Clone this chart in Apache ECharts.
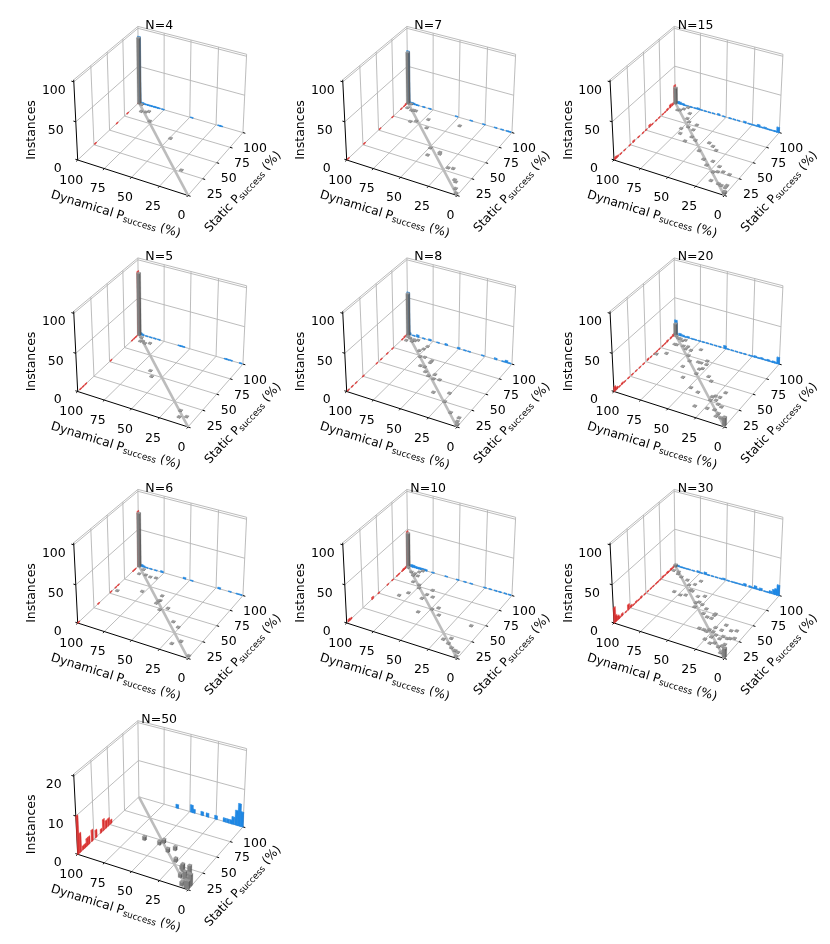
<!DOCTYPE html>
<html>
<head>
<meta charset="utf-8">
<title>Instances by dynamical and static Psuccess</title>
<script src="https://cdn.jsdelivr.net/npm/echarts@6/dist/echarts.min.js"></script>
<style>
  html, body { margin: 0; padding: 0; background: #fff; }
  #main { width: 830px; height: 944px; }
</style>
</head>
<body>
<div id="main"></div>
<script>
// axis ticks
var dynTicks = [0, 25, 50, 75, 100]
var staticTicks = [0, 25, 50, 75, 100]
var instTicks = [0, 50, 100]
var instTicksN50 = [0, 10, 20]
var diagonal = [[100, 100], [0, 0]]

// gray bars: [dynamical, static, instances (1 if left out)]
var gray_N4 = [[99,99,89],[96,98],[91,88],[87,89],[85,91],[77,78],[49,63],[20,27]]
var gray_N5 = [[99,99,84],[95,96],[93,90],[91,91],[88,89],[84,91],[63,54],[58,47],[15,16],[12,8],[7,11]]
var gray_N6 = [[99,99,73],[93,96],[93,88],[87,89],[82,88],[77,89],[96,56],[77,65],[59,67],[57,60],[58,59],[58,55],[51,48],[46,53],[33,38],[26,33],[15,17],[20,11],[1,3]]
var gray_N50 = [[63,44],[49,44],[47,48],[38,38],[34,43],[26,29],[17,22],[15,20,2],[13,12],[9,12,2],[7,16,3],[7,3],[5,11,2],[3,7,2],[3,2,2],[1,6,3],[1,2,2]]
var gray_N7 = [[99,99,70],[96,99],[96,92],[91,90],[89,91],[87,91],[83,74],[79,77],[71,84],[66,72],[43,88],[49,47],[39,45],[38,43],[46,37],[23,29],[19,30],[11,17],[9,15],[5,7],[2,2]]
var gray_N8 = [[99,99,57],[98,96],[95,95],[91,94],[96,90],[89,93],[87,95],[91,91],[75,90],[76,85],[78,81],[73,73],[69,74],[61,72],[61,69],[66,61],[62,61],[58,55],[53,51],[49,55],[42,50],[47,49],[38,32],[26,37],[24,25],[13,14],[4,11],[3,6],[1,2,2]]
var gray_N10 = [[99,99,46],[98,97],[92,92],[88,91],[88,88],[86,95],[84,98],[84,89],[83,79],[76,77],[74,73],[83,55],[78,62],[63,67],[62,75],[64,60],[57,66],[57,41],[49,50],[45,54],[40,45],[10,44],[21,17],[16,21],[15,14],[10,10],[6,8],[3,7],[2,2]]
var gray_N15 = [[99,99,22],[92,90],[90,91],[88,94],[86,98],[80,90],[78,82],[74,78],[75,66],[71,71],[66,77],[65,69],[72,59],[61,59],[63,51],[56,56],[44,58],[39,55],[34,51],[46,44],[37,35],[31,29],[29,36],[21,32],[19,25],[22,23],[15,27],[9,26],[18,12],[11,11],[8,10],[4,9],[4,12],[2,4],[1,2,3]]
var gray_N20 = [[99,99,16],[97,97],[94,95],[92,95],[92,85],[90,85],[89,93],[87,95],[84,86],[80,83],[80,87],[75,83],[68,88],[91,69],[98,64],[73,75],[68,68],[69,58],[61,70],[58,70],[55,75],[55,61],[53,63],[53,70],[61,44],[54,54],[43,55],[38,50],[48,34],[40,31],[33,13],[27,31],[25,33],[21,33],[20,41],[26,26],[22,28],[18,24],[14,22],[23,15],[17,16],[12,9],[12,13],[8,9],[5,8],[1,2,11]]
var gray_N30 = [[99,99,3],[97,92],[92,92],[91,89],[86,86],[79,84],[68,88],[70,81],[74,78],[69,72],[80,63],[73,61],[69,63],[67,71],[59,66],[54,69],[56,57],[54,59],[50,57],[54,51],[44,53],[43,46],[38,43],[34,43],[34,48],[34,50],[19,40],[25,33],[19,32],[36,26],[32,26],[29,25],[28,28],[24,27],[20,24],[22,20],[25,15],[15,21],[14,25],[10,24],[12,35],[8,37],[8,25],[5,27],[19,12],[16,14],[11,11],[9,13],[8,16],[6,5],[5,9],[1,2,12]]

// red bars along the dynamical = 100 wall: [static, instances]
var red_N4 = [[99,1],[80,1],[62,1],[27,1]]
var red_N5 = [[99,86],[95,1],[92,1],[88,1],[52,1],[12,1],[8,1],[4,1]]
var red_N6 = [[99,75],[93,1],[90,1],[64,1],[60,1],[52,1],[32,1],[1,1]]
var red_N50 = [[1,10],[4,5],[8,1],[11,1],[14,2],[17,2],[22,3],[28,2],[36,1],[40,3],[44,2],[48,2],[52,1]]
var red_N7 = [[96,2],[93,1],[88,1],[73,1],[52,1],[27,1],[2,1]]
var red_N8 = [[98,2],[94,2],[90,1],[73,1],[64,1],[54,1],[47,1],[25,1],[14,1],[8,1],[2,1]]
var red_N10 = [[99,48],[96,2],[94,1],[92,2],[90,1],[84,1],[81,1],[73,1],[65,1],[50,1],[40,3],[6,2],[3,3]]
var red_N15 = [[99,25],[95,3],[91,4],[86,2],[82,1],[78,1],[72,1],[67,1],[60,1],[56,3],[50,1],[45,1],[38,1],[30,2],[24,1],[16,1],[10,1],[5,2],[2,3]]
var red_N20 = [[96,3],[92,2],[86,2],[82,1],[78,1],[72,1],[68,1],[64,1],[58,1],[53,2],[46,1],[40,1],[34,1],[28,1],[22,1],[16,1],[12,2],[8,1],[4,3],[1,6]]
var red_N30 = [[97,2],[94,1],[92,2],[88,1],[86,2],[82,1],[78,2],[74,1],[70,1],[67,1],[62,1],[58,1],[53,1],[48,1],[42,2],[38,1],[34,2],[30,1],[26,3],[22,7],[18,1],[12,3],[8,2],[6,5],[3,8],[1,20]]

// blue bars along the static = 100 wall: [dynamical, instances]
var blue_N4 = [[99,90],[96,2],[94,1],[92,1],[90,1],[88,1],[86,1],[84,1],[82,1],[80,1],[76,1],[48,1],[22,1],[20,1]]
var blue_N5 = [[98,3],[96,2],[92,1],[88,1],[84,1],[80,1],[60,1],[58,1],[56,1],[16,1],[14,1],[11,1],[2,1]]
var blue_N6 = [[97,3],[95,2],[92,1],[88,1],[83,1],[77,2],[55,2],[48,1],[22,2],[12,1],[5,1],[2,1]]
var blue_N50 = [[62,1],[48,2],[46,1],[38,1],[33,1],[25,1],[17,1],[14,1],[11,1],[9,2],[6,4],[3.5,6],[1,4]]
var blue_N7 = [[99,71],[98,2],[96,2],[94,2],[92,1],[90,1],[84,1],[78,1],[52,1],[38,1],[26,1],[15,1],[9,1],[4,1],[2,1]]
var blue_N8 = [[99,58],[98,3],[94,1],[90,3],[84,1],[78,2],[70,1],[62,2],[50,2],[44,1],[40,1],[27,1],[15,2],[8,1],[5,3],[2,1]]
var blue_N10 = [[96,3],[94,3],[92,2],[90,2],[88,2],[86,2],[84,2],[82,2],[75,1],[62,1],[51,1],[44,1],[38,1],[25,1],[20,1],[15,1],[11,1],[6,1],[2,1]]
var blue_N15 = [[97,3],[95,3],[92,2],[90,1],[87,1],[84,1],[80,1],[77,2],[74,1],[70,1],[66,1],[62,1],[57,2],[52,1],[46,1],[42,1],[38,1],[32,2],[28,1],[25,1],[22,1],[19,3],[16,1],[13,2],[10,1],[8,1],[5,1],[3,1],[1,7]]
var blue_N20 = [[99,20],[95,3],[92,2],[90,1],[87,2],[83,1],[80,1],[76,1],[72,1],[68,1],[64,1],[60,1],[56,1],[51,4],[48,1],[44,1],[40,1],[36,1],[32,1],[27,1],[24,1],[22,2],[19,1],[16,2],[13,1],[10,2],[7,1],[5,2],[3,1],[1,9]]
var blue_N30 = [[97,2],[94,1],[92,1],[89,1],[86,1],[82,1],[77,2],[74,1],[70,3],[67,1],[63,1],[59,1],[55,1],[52,2],[48,1],[44,1],[41,1],[38,1],[35,1],[32,3],[27,2],[24,1],[22,4],[19,1],[17,3],[13,1],[10,1],[8,3],[5,6],[3,8],[1,14]]

var panels = [
    {n: 4,  col: 0, row: 0, gray: gray_N4,  red: red_N4,  blue: blue_N4,  zTicks: instTicks},
    {n: 5,  col: 0, row: 1, gray: gray_N5,  red: red_N5,  blue: blue_N5,  zTicks: instTicks},
    {n: 6,  col: 0, row: 2, gray: gray_N6,  red: red_N6,  blue: blue_N6,  zTicks: instTicks},
    {n: 50, col: 0, row: 3, gray: gray_N50, red: red_N50, blue: blue_N50, zTicks: instTicksN50},
    {n: 7,  col: 1, row: 0, gray: gray_N7,  red: red_N7,  blue: blue_N7,  zTicks: instTicks},
    {n: 8,  col: 1, row: 1, gray: gray_N8,  red: red_N8,  blue: blue_N8,  zTicks: instTicks},
    {n: 10, col: 1, row: 2, gray: gray_N10, red: red_N10, blue: blue_N10, zTicks: instTicks},
    {n: 15, col: 2, row: 0, gray: gray_N15, red: red_N15, blue: blue_N15, zTicks: instTicks},
    {n: 20, col: 2, row: 1, gray: gray_N20, red: red_N20, blue: blue_N20, zTicks: instTicks},
    {n: 30, col: 2, row: 2, gray: gray_N30, red: red_N30, blue: blue_N30, zTicks: instTicks}
]

var FONT = '"DejaVu Sans", sans-serif'
var colX = [77.7, 346.7, 614]
var rowY = [160, 391.5, 623, 854.3]
var SCALE = 1090

// 3D camera fitted to the reference: box 4:4:3, distance 10
var ELEV = 32 * Math.PI / 180, AZIM = -61.5 * Math.PI / 180
var BOX = [1.1429, 1.1429, 0.8571]
var EYE_N = [Math.cos(ELEV) * Math.cos(AZIM), Math.cos(ELEV) * Math.sin(AZIM), Math.sin(ELEV)]
var EYE_U = [-Math.sin(AZIM), Math.cos(AZIM), 0]
var EYE_V = [-Math.sin(ELEV) * Math.cos(AZIM), -Math.sin(ELEV) * Math.sin(AZIM), Math.cos(ELEV)]
var DIST = 10

function dot(a, b) { return a[0] * b[0] + a[1] * b[1] + a[2] * b[2] }

// dyn runs 100 -> 0 along the front edge, static 0 -> 100 along the right edge
function cam(d, s, zFrac) {
    var X = echarts.number.linearMap(d, [100, 0], [0, 1], false)
    var Y = echarts.number.linearMap(s, [0, 100], [0, 1], false)
    var P = [(X - 0.5) * BOX[0], (Y - 0.5) * BOX[1], (zFrac - 0.5) * BOX[2]]
    var w = DIST - dot(P, EYE_N)
    return [dot(P, EYE_U) / w, dot(P, EYE_V) / w]
}
var camL = cam(100, 0, 0)

function projector(p) {
    var zTop = p.zTicks[p.zTicks.length - 1] * 1.025
    var ox = colX[p.col], oy = rowY[p.row]
    return function (d, s, z) {
        var c = cam(d, s, z / zTop)
        return [ox + SCALE * (c[0] - camL[0]), oy - SCALE * (c[1] - camL[1])]
    }
}

function lineSeries(p, name, items, color, width) {
    var proj = projector(p)
    return {
        type: 'custom', name: name, coordinateSystem: 'none', silent: true, animation: false,
        data: items,
        renderItem: function (params, api) {
            var a = proj(api.value(0), api.value(1), api.value(2))
            var b = proj(api.value(3), api.value(4), api.value(5))
            return {
                type: 'line',
                shape: {x1: a[0], y1: a[1], x2: b[0], y2: b[1]},
                style: {stroke: color, lineWidth: width, fill: null}
            }
        }
    }
}

function barSeries(p, name, items, half, colors) {
    var proj = projector(p)
    return {
        type: 'custom', name: name, coordinateSystem: 'none', silent: true, animation: false,
        data: items,
        renderItem: function (params, api) {
            var d = api.value(0), s = api.value(1), h = api.value(2)
            var d0 = d + half[0], d1 = d - half[0], s0 = s - half[1], s1 = s + half[1]
            function poly(pts, fill) {
                return {
                    type: 'polygon',
                    shape: {points: pts},
                    style: {fill: fill, stroke: fill, lineWidth: 0.3}
                }
            }
            return {
                type: 'group',
                children: [
                    poly([proj(d0, s0, 0), proj(d1, s0, 0), proj(d1, s0, h), proj(d0, s0, h)], colors[1]),
                    poly([proj(d1, s0, 0), proj(d1, s1, 0), proj(d1, s1, h), proj(d1, s0, h)], colors[2]),
                    poly([proj(d0, s0, h), proj(d1, s0, h), proj(d1, s1, h), proj(d0, s1, h)], colors[0])
                ]
            }
        }
    }
}

function textSeries(p, items) {
    var ox = colX[p.col], oy = rowY[p.row]
    var proj = projector(p)
    return {
        type: 'custom', name: 'labels N=' + p.n, coordinateSystem: 'none', silent: true, animation: false,
        data: items.map(function (t, i) { return [i] }),
        renderItem: function (params) {
            var t = items[params.dataIndex]
            var at = t.at ? proj(t.at[0], t.at[1], t.at[2]) : [ox, oy]
            return {
                type: 'text',
                x: at[0] + t.off[0], y: at[1] + t.off[1],
                rotation: (t.rot || 0) * Math.PI / 180,
                style: {
                    text: t.text,
                    rich: {
                        a: {fontSize: 12.2, fontFamily: FONT, fill: '#000'},
                        b: {fontSize: 8.8, fontFamily: FONT, fill: '#000', padding: [5, 0, 0, 0]}
                    },
                    fontSize: 12.5, fontFamily: FONT, fill: '#000',
                    align: 'center', verticalAlign: 'middle'
                }
            }
        }
    }
}

function panelSeries(p) {
    var zTop = p.zTicks[p.zTicks.length - 1] * 1.025
    var grid = []
    dynTicks.forEach(function (t) {
        if (t > 0 && t < 100) grid.push([t, 0, 0, t, 100, 0])
        if (t < 100) grid.push([t, 100, 0, t, 100, zTop])
    })
    staticTicks.forEach(function (t) {
        if (t > 0 && t < 100) grid.push([100, t, 0, 0, t, 0])
        if (t > 0) grid.push([100, t, 0, 100, t, zTop])
    })
    p.zTicks.forEach(function (z) {
        grid.push([100, 0, z, 100, 100, z])
        grid.push([100, 100, z, 0, 100, z])
    })
    grid.push([100, 0, zTop, 100, 100, zTop])
    grid.push([100, 100, zTop, 0, 100, zTop])
    grid.push([0, 0, 0, 0, 100, 0])

    var axes = [[100, 0, 0, 0, 0, 0], [100, 0, 0, 100, 0, zTop]]
    dynTicks.forEach(function (t) { axes.push([t, 0, 0, t, -2.2, 0]) })
    staticTicks.forEach(function (t) { axes.push([0, t, 0, -2.2, t, 0]) })
    p.zTicks.forEach(function (z) { axes.push([100, 0, z, 102.2, 0, z]) })

    var sortKey = function (b) { return EYE_N[0] * (100 - b[0]) + EYE_N[1] * b[1] }
    var grayBars = p.gray.map(function (b) { return [b[0], b[1], b[2] || 1] })
        .sort(function (a, b) { return sortKey(a) - sortKey(b) })
    var redBars = p.red.map(function (b) { return [99.7, b[0], b[1]] })
    var blueBars = p.blue.map(function (b) { return [b[0], 99.7, b[1]] })

    var labels = [
        {text: 'N=' + p.n, off: [81.5, -134.3]},
        {text: 'Instances', off: [-45.5, -30], rot: 90},
        {text: '{a|Dynamical P}{b|success}{a| (%)}', off: [38, 54.5], rot: -17},
        {text: '{a|Static P}{b|success}{a| (%)}', off: [165.5, 32], rot: 47}
    ]
    dynTicks.forEach(function (t) { labels.push({text: String(t), at: [t, 0, 0], off: [-6.5, 20.5]}) })
    staticTicks.forEach(function (t) {
        if (t > 0) labels.push({text: String(t), at: [0, t, 0], off: [12, 16.5]})
    })
    p.zTicks.forEach(function (z) { labels.push({text: String(z), at: [100, 0, z], off: [-20, 8.5]}) })

    return [
        lineSeries(p, 'grid N=' + p.n, grid, '#b4b4b4', 0.9),
        lineSeries(p, 'axes N=' + p.n, axes, '#000', 1),
        barSeries(p, 'red N=' + p.n, redBars, [0.3, 1.25], ['#e53935', '#e53935', '#d63030']),
        barSeries(p, 'blue N=' + p.n, blueBars, [1.25, 0.3], ['#1e88e5', '#1e88e5', '#1a78d0']),
        lineSeries(p, 'diagonal N=' + p.n, [[diagonal[0][0], diagonal[0][1], 0, diagonal[1][0], diagonal[1][1], 0]], '#bcbcbc', 2.6),
        barSeries(p, 'gray N=' + p.n, grayBars, [1.25, 1.25], ['#989898', '#808080', '#5e5e5e']),
        textSeries(p, labels)
    ]
}

var series = []
panels.forEach(function (p) { series = series.concat(panelSeries(p)) })

var myChart = echarts.init(document.getElementById('main'), null, {renderer: 'canvas'})
myChart.setOption({
    backgroundColor: '#fff',
    animation: false,
    series: series
})
</script>
</body>
</html>
